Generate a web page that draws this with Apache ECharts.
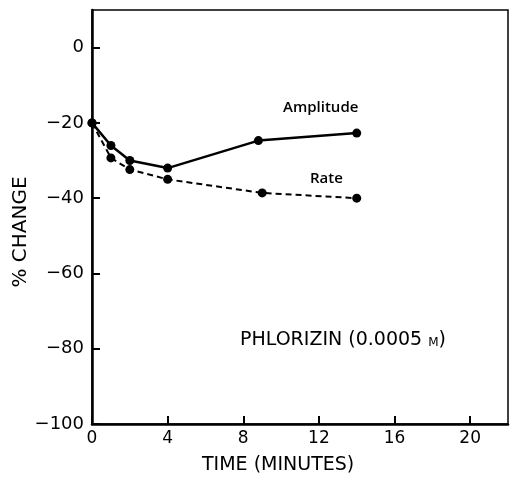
<!DOCTYPE html>
<html>
<head>
<meta charset="utf-8">
<script src="https://cdn.jsdelivr.net/npm/echarts@6/dist/echarts.min.js"></script>
<style>
  html, body { margin: 0; padding: 0; background: #fff; }
  #chart { width: 512px; height: 478px; }
</style>
</head>
<body>
<div id="chart"></div>
<script>
// time in minutes
const ampTime = [0, 1, 2, 4, 8.8, 14]
const amplitude = [-20, -26, -30, -32, -24.7, -22.7]
const rateTime = [0, 1, 2, 4, 9, 14]
const rate = [-20, -29.3, -32.4, -35, -38.6, -40]

const toPairs = (xs, ys) => xs.map((x, i) => [x, ys[i]])

const font = "DejaVu Sans"

const chart = echarts.init(document.getElementById("chart"))
chart.setOption({
  animation: false,
  grid: {
    left: 92, right: 4, top: 10, bottom: 54,
    show: true,
    borderColor: "#000",
    borderWidth: 1.5
  },
  xAxis: {
    type: "value",
    min: 0,
    max: 22,
    interval: 4,
    axisLine: { onZero: false, lineStyle: { color: "#000", width: 2.5 } },
    axisTick: { inside: true, length: 8, lineStyle: { color: "#000", width: 2 } },
    axisLabel: { color: "#000", fontFamily: font, fontSize: 17, margin: 6, showMaxLabel: false },
    splitLine: { show: false }
  },
  yAxis: {
    type: "value",
    min: -100,
    max: 10,
    interval: 20,
    axisLine: { onZero: false, lineStyle: { color: "#000", width: 2.5 } },
    axisTick: { inside: true, length: 8, lineStyle: { color: "#000", width: 2 } },
    axisLabel: {
      color: "#000", fontFamily: font, fontSize: 18, margin: 8, showMaxLabel: false,
      formatter: v => (v < 0 ? "\u2212" + Math.abs(v) : String(v))
    },
    splitLine: { show: false }
  },
  graphic: [
    { type: "text", left: 283, top: 100, style: { text: "Amplitude", font: "600 15px 'Open Sans'", fill: "#000" } },
    { type: "text", left: 310, top: 171, style: { text: "Rate", font: "600 15px 'Open Sans'", fill: "#000" } },
    {
      type: "text", left: 240, top: 331,
      style: {
        text: "{a|PHLORIZIN (0.0005 }{b|M}{a|)}",
        rich: {
          a: { fontFamily: font, fontSize: 19, fill: "#000" },
          b: { fontFamily: font, fontSize: 12, fill: "#000", padding: [5, 0, 0, 0] }
        }
      }
    },
    { type: "text", left: 202, top: 456, style: { text: "TIME (MINUTES)", font: "19px 'DejaVu Sans'", fill: "#000" } },
    {
      type: "text", x: 21, y: 232, rotation: Math.PI / 2,
      style: { text: "% CHANGE", font: "20px 'DejaVu Sans'", fill: "#000", align: "center", verticalAlign: "middle" }
    }
  ],
  series: [
    {
      name: "Amplitude",
      type: "line",
      data: toPairs(ampTime, amplitude),
      symbol: "circle",
      symbolSize: 9,
      itemStyle: { color: "#000" },
      lineStyle: { color: "#000", width: 2.5 }
    },
    {
      name: "Rate",
      type: "line",
      data: toPairs(rateTime, rate),
      symbol: "circle",
      symbolSize: 9,
      itemStyle: { color: "#000" },
      lineStyle: { color: "#000", width: 2, type: [6, 4] }
    }
  ]
})
</script>
</body>
</html>
